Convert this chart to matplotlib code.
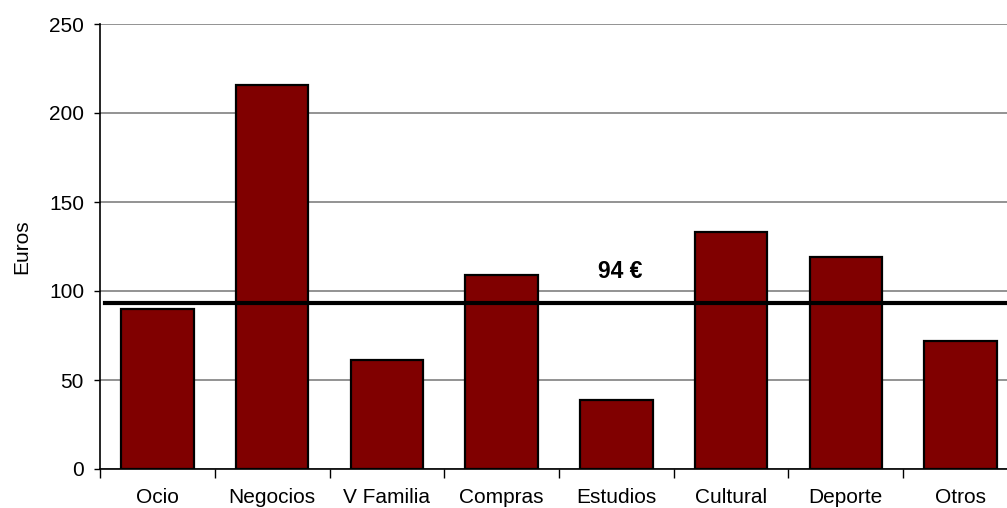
#!/usr/bin/python3

import matplotlib
matplotlib.use('Agg')
import matplotlib.pyplot as plt

categories = ['Ocio', 'Negocios', 'V Familia', 'Compras', 'Estudios', 'Cultural', 'Deporte', 'Otros']
euros = [90, 216, 61, 109, 39, 133, 119, 72]
average = 93
average_label = '94 €'
y_ticks = [0, 50, 100, 150, 200, 250]

plt.rcParams['font.family'] = ['Liberation Sans', 'DejaVu Sans']
plt.rcParams['font.size'] = 15

fig = plt.figure(figsize=(10.07, 5.08), dpi=100)
ax = fig.add_axes([100 / 1007, 39 / 508, 918 / 1007, 445 / 508])

x = list(range(len(categories)))
ax.bar(x, euros, width=0.63, color='#800000', edgecolor='black', linewidth=1.6, zorder=3)
ax.axhline(average, xmin=0.005, xmax=1, color='black', linewidth=3, zorder=4)
ax.text(4.03, 111, average_label, ha='center', va='center', fontsize=16.5, fontweight='bold', zorder=5)

ax.set_xlim(-0.5, len(categories) - 0.5)
ax.set_ylim(0, 250)
ax.set_yticks(y_ticks)
ax.yaxis.grid(True, color='#808080', linewidth=1.2, zorder=0)
ax.set_xticks([i + 0.5 for i in range(-1, len(categories))])
ax.set_xticklabels([])
ax.set_xticks(x, minor=True)
ax.set_xticklabels(categories, minor=True)
ax.tick_params(axis='x', which='major', length=6.5, width=1, direction='out')
ax.tick_params(axis='x', which='minor', length=0, pad=14)
ax.tick_params(axis='y', length=4.5, width=1, pad=7)
ax.set_ylabel('Euros', labelpad=13)

ax.spines['top'].set_visible(False)
ax.spines['right'].set_visible(False)
ax.spines['left'].set_linewidth(1.2)
ax.spines['bottom'].set_linewidth(1.2)

fig.savefig('out.png', dpi=100)
plt.close()
